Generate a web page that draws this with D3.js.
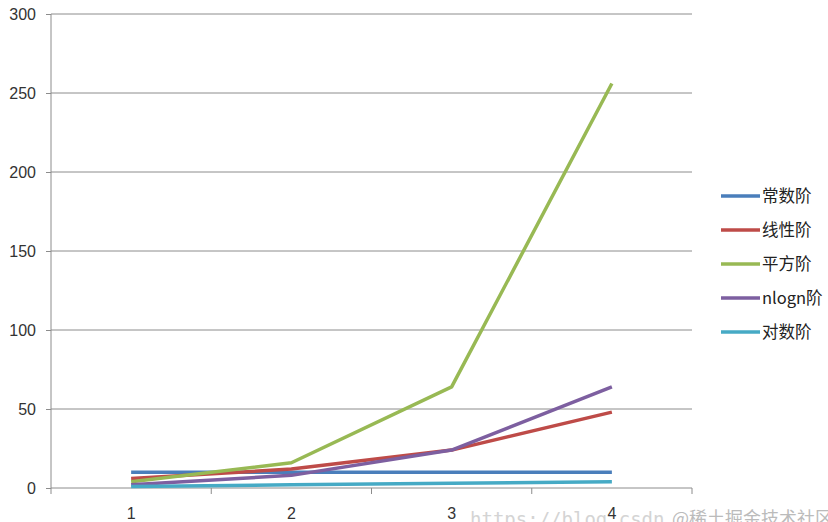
<!DOCTYPE html>
<html><head><meta charset="utf-8">
<script src="https://cdn.jsdelivr.net/npm/d3@7"></script>
<style>body{margin:0;background:#fff;}svg{display:block;}</style>
</head><body>
<svg id="c" width="828" height="522"></svg>
<script>
const categories = ["1","2","3","4"];
const seriesNames = ["常数阶","线性阶","平方阶","nlogn阶","对数阶"];
const constant = [10,10,10,10];
const linear = [6,12,24,48];
const square = [4,16,64,256];
const nlogn = [2,8,24,64];
const logv = [1,2,3,4];
const yTicks = [0,50,100,150,200,250,300];
const colors = ["#4A7EBB","#BE4B48","#98B954","#7D5FA0","#46AAC5"];
const series = [constant, linear, square, nlogn, logv];

const svg = d3.select("#c");
const L = 51, R = 692, T = 14, B = 488;
const x = d3.scaleBand().domain(categories).range([L, R]);
const y = d3.scaleLinear().domain([0,300]).range([B, T]);
const font = "'Liberation Sans', Arial, sans-serif";

// gridlines
svg.append("g").selectAll("line").data(yTicks.filter(d=>d>0)).join("line")
  .attr("x1", L).attr("x2", R).attr("y1", d=>y(d)).attr("y2", d=>y(d))
  .attr("stroke", "#8c8c8c").attr("stroke-width", 1);

// y axis
const ya = svg.append("g").attr("transform", `translate(${L},0)`)
  .call(d3.axisLeft(y).tickValues(yTicks).tickSize(5).tickPadding(10));
ya.select(".domain").attr("stroke","#8c8c8c").attr("d", `M0,${B}V${T}`);
ya.selectAll(".tick line").attr("stroke","#8c8c8c");
ya.selectAll(".tick text").attr("font-family", font).attr("font-size", 16).attr("fill","#333");

// x axis
const xa = svg.append("g").attr("transform", `translate(0,${B})`)
  .call(d3.axisBottom(x).tickSize(0).tickPadding(20));
xa.select(".domain").attr("stroke","#8c8c8c").attr("d", `M${L},0H${R}`);
xa.selectAll(".tick text").attr("font-family", font).attr("font-size", 16).attr("fill","#333");
svg.append("g").selectAll("line").data(categories.map((c,i)=>i).concat([categories.length]))
  .join("line")
  .attr("x1", i => i < categories.length ? x(categories[i]) : R)
  .attr("x2", i => i < categories.length ? x(categories[i]) : R)
  .attr("y1", B).attr("y2", B+6).attr("stroke","#8c8c8c");

// lines
const line = d3.line().x((d,i)=>x(categories[i]) + x.bandwidth()/2).y(d=>y(d));
svg.append("g").selectAll("path").data(series.map((s,i)=>i)).join("path")
  .attr("d", i => line(series[i]))
  .attr("fill","none").attr("stroke", i=>colors[i]).attr("stroke-width", 3.5)
  .attr("stroke-linejoin","round");

// legend
const lg = svg.append("g");
const ly = [196, 230, 264, 298, 332];
seriesNames.forEach((n,i)=>{
  lg.append("line").attr("x1",721).attr("x2",760).attr("y1",ly[i]).attr("y2",ly[i])
    .attr("stroke",colors[i]).attr("stroke-width",3.5);
  lg.append("text").attr("x",762).attr("y",ly[i]).attr("dy","0.36em")
    .attr("font-family","'Noto Sans CJK SC', 'Liberation Sans', sans-serif").attr("font-size",16.5)
    .attr("fill","#222").text(n);
});

// watermark
svg.append("text").attr("x",470).attr("y",526).attr("font-family","'DejaVu Sans Mono', monospace")
  .attr("font-size",19).attr("fill","#d4d4d4").text("https://blog.csdn");
svg.append("text").attr("x",672).attr("y",525).attr("font-family","'Noto Sans CJK SC', sans-serif")
  .attr("font-size",18).attr("fill","#bbb").text("@稀土掘金技术社区");
</script>
</body></html>
